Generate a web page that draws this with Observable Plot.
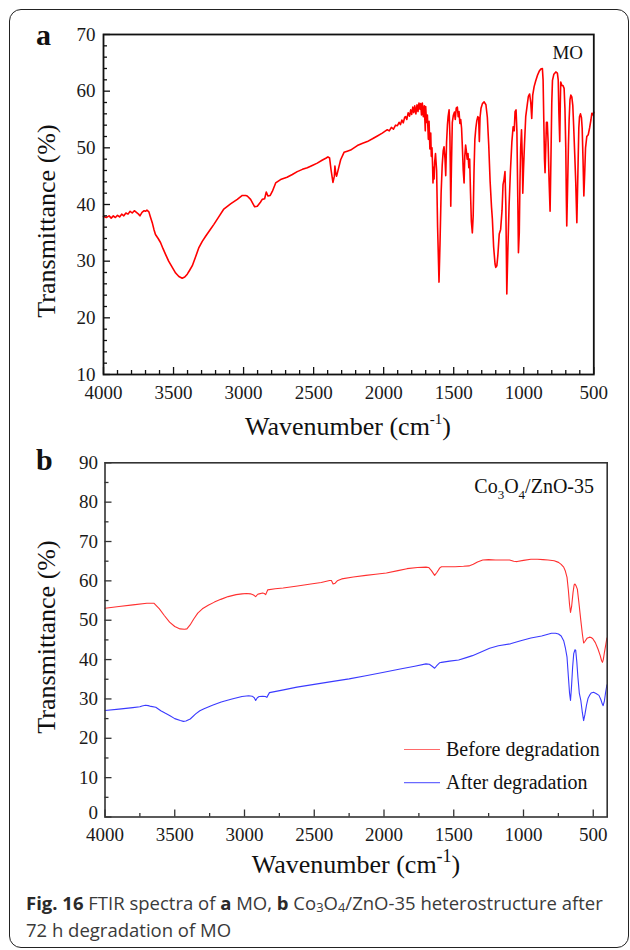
<!DOCTYPE html>
<html><head><meta charset="utf-8">
<script src="https://cdn.jsdelivr.net/npm/d3@7"></script>
<script src="https://cdn.jsdelivr.net/npm/@observablehq/plot@0.6"></script>
<style>
body{margin:0;background:#fff;}
#wrap{position:relative;width:630px;height:950px;overflow:hidden;background:#fff;}
#frame{position:absolute;left:9px;top:9px;width:620px;height:939px;border:1.5px solid #222;border-radius:12px;box-sizing:border-box;}
.panel{position:absolute;left:0;}
#caption{position:absolute;left:26px;top:889px;font-family:'Open Sans',sans-serif;font-size:18.5px;line-height:27px;color:#3a3a3a;white-space:nowrap;}
#caption b{color:#2a2a2a;}
#caption sub{font-size:0.7em;vertical-align:-0.15em;line-height:0;}
</style></head>
<body>
<div id="wrap">
<div id="frame"></div>
<div id="pa" class="panel" style="top:0"></div>
<div id="pb" class="panel" style="top:440px"></div>
<div id="caption"><b>Fig. 16</b> FTIR spectra of <b>a</b> MO, <b>b</b> Co<sub>3</sub>O<sub>4</sub>/ZnO-35 heterostructure after<br>72 h degradation of MO</div>
</div>
<script>
// ---------- Data: [wavenumber (cm-1), transmittance (%)] ----------
const moSpectrum = [
[4000,37.9],[3980,37.7],[3960,38.0],[3945,37.6],[3930,38.0],[3915,37.7],[3900,38.1],[3885,37.8],[3870,38.3],[3855,38.0],
[3840,38.5],[3825,38.3],[3810,38.8],[3795,38.5],[3780,38.9],[3765,38.6],[3750,38.3],[3740,38.0],[3725,38.6],[3710,38.9],
[3700,38.8],[3690,39.0],[3676,38.7],[3665,37.8],[3652,36.8],[3640,35.6],[3629,34.7],[3610,34.0],[3593,33.3],[3575,32.2],
[3557,31.2],[3535,30.0],[3509,28.9],[3485,27.9],[3462,27.3],[3438,27.0],[3420,27.2],[3402,27.7],[3385,28.4],[3366,29.2],
[3345,30.6],[3319,32.4],[3295,33.5],[3271,34.4],[3240,35.5],[3212,36.5],[3175,37.9],[3141,39.2],[3093,40.1],[3045,40.9],
[3009,41.6],[2985,41.6],[2974,41.5],[2950,40.9],[2921,39.6],[2902,39.7],[2880,40.4],[2867,40.9],[2850,41.0],[2838,42.2],
[2826,41.5],[2810,41.6],[2795,42.3],[2771,43.8],[2736,44.4],[2690,44.8],[2652,45.3],[2617,45.8],[2580,46.2],[2545,46.5],
[2510,46.9],[2474,47.3],[2440,47.8],[2410,48.2],[2398,48.4],[2386,48.2],[2375,46.0],[2362,43.9],[2352,45.0],[2348,46.8],
[2342,45.5],[2336,45.0],[2320,46.6],[2307,47.9],[2283,49.2],[2260,49.4],[2236,49.6],[2188,50.4],[2150,50.8],[2117,51.1],
[2080,51.6],[2045,52.1],[2010,52.6],[1974,53.2],[1960,53.0],[1945,53.6],[1930,53.3],[1915,54.0],[1902,53.9],[1890,54.5],
[1880,54.1],[1870,54.9],[1860,54.4],[1850,55.4],[1843,55.5],[1835,55.0],[1825,56.2],[1815,55.6],[1807,56.7],[1800,55.9],
[1792,57.2],[1785,56.2],[1778,57.4],[1770,56.0],[1762,57.6],[1755,56.4],[1748,57.9],[1740,56.8],[1736,57.8],[1730,55.8],
[1724,57.9],[1717,55.5],[1710,57.4],[1703,53.0],[1700,57.3],[1694,54.5],[1688,55.8],[1681,51.5],[1676,54.7],[1670,49.8],
[1664,52.6],[1660,48.5],[1655,50.0],[1651,47.0],[1648,43.8],[1644,46.5],[1640,44.5],[1636,47.5],[1630,49.0],[1622,46.0],
[1615,36.0],[1605,26.3],[1598,33.0],[1590,42.0],[1582,47.0],[1575,49.5],[1569,50.2],[1562,48.0],[1557,45.1],[1551,51.0],
[1545,54.0],[1540,55.5],[1533,56.7],[1527,52.0],[1521,39.7],[1516,47.0],[1510,54.5],[1503,55.7],[1495,56.3],[1489,55.0],
[1482,57.0],[1474,57.2],[1468,55.5],[1462,56.4],[1456,54.3],[1450,55.0],[1444,53.5],[1438,50.0],[1432,46.0],[1426,43.8],
[1421,48.5],[1415,50.5],[1410,49.5],[1404,48.0],[1398,49.0],[1392,46.5],[1386,48.0],[1380,42.0],[1374,37.0],[1367,35.0],
[1361,38.0],[1355,46.0],[1349,51.5],[1342,53.5],[1335,54.8],[1328,55.5],[1322,55.3],[1317,51.1],[1312,55.4],[1305,57.0],
[1295,57.8],[1283,58.1],[1270,57.6],[1260,55.4],[1250,50.5],[1240,44.0],[1230,39.5],[1224,37.4],[1215,32.5],[1205,29.5],
[1200,28.9],[1192,29.2],[1185,31.0],[1175,34.8],[1165,35.6],[1155,39.0],[1148,43.5],[1141,44.4],[1134,45.8],[1128,40.0],
[1121,24.2],[1114,31.5],[1105,39.7],[1095,46.0],[1085,51.0],[1076,53.7],[1068,53.0],[1062,56.4],[1055,56.7],[1049,53.0],
[1042,40.0],[1038,31.5],[1032,35.0],[1027,44.0],[1022,50.0],[1016,53.2],[1010,48.0],[1007,42.0],[1002,46.0],[995,50.5],
[986,55.5],[974,57.8],[967,59.1],[958,59.5],[950,58.0],[943,55.2],[936,59.3],[926,60.8],[915,61.8],[902,62.8],
[890,63.5],[878,63.9],[867,64.0],[862,62.0],[857,55.0],[852,48.0],[848,45.6],[843,50.0],[838,54.5],[832,54.5],
[826,51.0],[819,44.0],[812,38.8],[806,48.0],[800,58.0],[795,61.9],[785,63.0],[771,63.4],[760,63.2],[754,62.0],
[749,56.0],[743,51.1],[739,58.0],[736,61.6],[728,61.0],[720,61.0],[712,60.5],[706,57.0],[700,50.0],[696,41.0],
[693,36.2],[688,42.0],[681,50.5],[676,55.0],[670,58.5],[664,59.3],[657,59.0],[650,57.5],[644,54.0],[636,48.8],
[629,44.0],[621,36.8],[614,45.0],[607,53.5],[602,55.5],[595,56.0],[588,55.3],[583,53.5],[577,48.0],[571,41.5],
[565,45.5],[559,50.0],[550,52.0],[540,52.3],[530,53.5],[520,55.0],[514,56.1],[507,55.8],[500,56.3]
];

const beforeSpectrum = [
[4000,53.05],[3900,53.5],[3800,53.9],[3700,54.3],[3648,54.3],[3610,52.9],[3575,51.2],[3537,49.5],[3500,48.4],[3462,47.8],
[3430,47.7],[3413,47.8],[3390,48.8],[3364,50.3],[3335,51.8],[3302,52.9],[3260,53.8],[3216,54.6],[3170,55.3],[3117,56.0],
[3060,56.5],[3018,56.7],[2985,56.8],[2957,56.7],[2935,56.4],[2920,56.0],[2905,56.6],[2895,56.7],[2870,56.9],[2858,56.8],
[2848,56.5],[2834,57.7],[2780,58.0],[2723,58.2],[2620,58.7],[2525,59.2],[2450,59.6],[2390,60.1],[2377,60.1],[2365,59.2],
[2350,59.4],[2335,60.0],[2303,60.5],[2220,61.0],[2130,61.4],[2060,61.7],[1983,62.0],[1900,62.6],[1835,63.1],[1760,63.4],
[1699,63.5],[1680,63.4],[1660,62.6],[1637,61.4],[1620,62.2],[1600,63.3],[1588,63.6],[1540,63.6],[1490,63.6],[1430,63.7],
[1391,63.8],[1360,64.2],[1330,64.8],[1292,65.3],[1250,65.4],[1200,65.3],[1144,65.3],[1100,65.3],[1070,65.0],[1046,64.9],
[1000,65.2],[947,65.5],[900,65.5],[860,65.4],[824,65.3],[780,65.1],[749,64.7],[730,64.2],[712,63.5],[700,62.5],
[688,60.9],[678,57.5],[670,54.0],[663,52.0],[655,53.5],[645,57.0],[637,59.0],[631,59.2],[624,58.8],[614,57.9],
[603,54.5],[589,49.9],[578,46.5],[569,44.2],[560,44.6],[545,45.4],[527,45.7],[515,45.6],[503,45.3],[485,44.3],
[466,42.7],[450,41.0],[440,39.7],[434,39.3],[428,40.0],[420,41.8],[410,43.8],[402,45.5]
];

const afterSpectrum = [
[4000,27.06],[3900,27.4],[3800,27.8],[3750,28.0],[3734,28.2],[3710,28.4],[3690,28.3],[3670,28.1],[3636,27.9],[3600,27.0],
[3570,26.4],[3537,25.8],[3500,25.0],[3460,24.5],[3438,24.3],[3420,24.4],[3389,24.9],[3350,26.2],[3320,27.0],[3290,27.5],
[3230,28.4],[3167,29.2],[3090,30.0],[3018,30.6],[2970,30.8],[2945,30.7],[2930,30.3],[2920,29.6],[2908,30.3],[2895,30.6],
[2870,30.7],[2850,30.6],[2840,30.4],[2821,31.6],[2720,32.3],[2624,33.0],[2500,33.7],[2377,34.4],[2250,35.1],[2130,35.9],
[2010,36.7],[1884,37.6],[1780,38.3],[1699,38.9],[1675,38.8],[1655,38.3],[1637,37.8],[1620,38.5],[1600,39.2],[1588,39.3],
[1530,39.6],[1465,39.9],[1410,40.5],[1366,41.0],[1300,42.0],[1243,42.9],[1180,43.5],[1094,44.0],[1020,44.8],[947,45.5],
[870,46.0],[799,46.7],[770,46.7],[749,46.5],[730,46.0],[712,44.8],[700,43.0],[688,40.6],[678,35.5],[670,31.5],
[663,29.6],[656,33.0],[648,38.0],[640,41.5],[631,42.5],[626,42.4],[618,39.5],[610,35.5],[600,31.5],[589,29.6],
[578,26.5],[569,24.5],[560,26.0],[548,28.5],[537,30.2],[527,30.9],[515,31.5],[498,31.7],[480,31.4],[459,30.9],
[445,29.8],[435,28.7],[429,28.3],[420,29.5],[412,31.5],[402,33.6]
];

// ---------- Axes ----------
const xTicksA = [4000, 3500, 3000, 2500, 2000, 1500, 1000, 500];
const yTicksA = [10, 20, 30, 40, 50, 60, 70];
const xTicksB = [4000, 3500, 3000, 2500, 2000, 1500, 1000, 500];
const yTicksB = [0, 10, 20, 30, 40, 50, 60, 70, 80, 90];
const xMinorA = d3.range(500, 4001, 100).filter(v => v % 500 !== 0);
const yMinorA = d3.range(10, 71, 2).filter(v => v % 10 !== 0);
const xMinorB = d3.range(750, 4000, 500);
const yMinorB = d3.range(5, 90, 10);

const seriesNames = ["Before degradation", "After degradation"];
const seriesColors = ["#ff3030", "#3a3aff"];
const legendColors = ["#ff6a6a", "#6a6aff"];

const serif = "'Liberation Serif','Times New Roman',Times,serif";
const W = 630;

function txt(sel, x, y, size, str, opts = {}) {
  const t = sel.append("text").attr("x", x).attr("y", y).attr("font-size", size)
    .attr("font-family", serif).attr("fill", opts.fill || "#111")
    .attr("text-anchor", opts.anchor || "start");
  if (opts.weight) t.attr("font-weight", opts.weight);
  if (opts.transform) t.attr("transform", opts.transform);
  if (str != null) t.text(str);
  return t;
}

// ---------- Panel a ----------
const mA = {top: 34, right: 36.7, bottom: 66, left: 103};
const HA = 440;
const phA = HA - mA.top - mA.bottom;
const pwA = W - mA.left - mA.right;
const plotA = Plot.plot({
  width: W, height: HA,
  marginTop: mA.top, marginRight: mA.right, marginBottom: mA.bottom, marginLeft: mA.left,
  style: {fontFamily: serif, background: "transparent", color: "#111", overflow: "visible"},
  x: {domain: [4000, 500]},
  y: {domain: [10, 70]},
  marks: [
    Plot.line(moSpectrum, {x: d => d[0], y: d => d[1], stroke: "#ff0000", strokeWidth: 1.6}),
    Plot.ruleX(xMinorA, {x: d => d, insetTop: phA - 4, stroke: "#111", strokeWidth: 1.3}),
    Plot.ruleX(xTicksA, {x: d => d, insetTop: phA - 7, stroke: "#111", strokeWidth: 1.3}),
    Plot.ruleY(yMinorA, {y: d => d, insetRight: pwA - 4, stroke: "#111", strokeWidth: 1.3}),
    Plot.ruleY(yTicksA, {y: d => d, insetRight: pwA - 7, stroke: "#111", strokeWidth: 1.3}),
    Plot.axisX({ticks: xTicksA, tickSize: 0, tickPadding: 11, tickFormat: d => String(d), fontSize: 19, label: null, color: "#1a1a1a"}),
    Plot.axisY({ticks: yTicksA, tickSize: 0, tickPadding: 8, tickFormat: d => String(d), fontSize: 19, label: null, color: "#1a1a1a"}),
    Plot.frame({stroke: "#111", strokeWidth: 1.8})
  ]
});
document.getElementById("pa").appendChild(plotA);
const sa = d3.select(plotA);
txt(sa, 36, 45, 30, "a", {weight: "bold"});
txt(sa, 0, 0, 26, "Transmittance (%)", {anchor: "middle", transform: "translate(55,221) rotate(-90)"});
{
  const t = txt(sa, 348, 435, 26, null, {anchor: "middle"});
  t.append("tspan").text("Wavenumber (cm");
  t.append("tspan").attr("font-size", 15).attr("dy", -11).text("-1");
  t.append("tspan").attr("dy", 11).text(")");
}
txt(sa, 583, 59, 19, "MO", {anchor: "end"});

// ---------- Panel b ----------
const mB = {top: 22.3, right: 23.3, bottom: 63.5, left: 104.5};
const HB = 440;
const phB = HB - mB.top - mB.bottom;
const pwB = W - mB.left - mB.right;
const plotB = Plot.plot({
  width: W, height: HB,
  marginTop: mB.top, marginRight: mB.right, marginBottom: mB.bottom, marginLeft: mB.left,
  style: {fontFamily: serif, background: "transparent", color: "#111", overflow: "visible"},
  x: {domain: [4000, 400]},
  y: {domain: [0, 90]},
  marks: [
    Plot.line(beforeSpectrum, {x: d => d[0], y: d => d[1], stroke: seriesColors[0], strokeWidth: 1.1}),
    Plot.line(afterSpectrum, {x: d => d[0], y: d => d[1], stroke: seriesColors[1], strokeWidth: 1.1}),
    Plot.ruleX(xMinorB, {x: d => d, insetTop: phB - 3.5, stroke: "#333", strokeWidth: 1.3}),
    Plot.ruleX(xTicksB, {x: d => d, insetTop: phB - 7, stroke: "#333", strokeWidth: 1.3}),
    Plot.ruleY(yMinorB, {y: d => d, insetRight: pwB - 4, stroke: "#333", strokeWidth: 1.3}),
    Plot.ruleY(yTicksB, {y: d => d, insetRight: pwB - 7, stroke: "#333", strokeWidth: 1.3}),
    Plot.axisX({ticks: xTicksB, tickSize: 0, tickPadding: 10, tickFormat: d => String(d), fontSize: 19, label: null, color: "#1a1a1a"}),
    Plot.axisY({ticks: yTicksB.filter(v => v !== 0), tickSize: 0, tickPadding: 7, tickFormat: d => String(d), fontSize: 19, label: null, color: "#1a1a1a"}),
    Plot.axisY({ticks: yTicksB.filter(v => v === 0), tickSize: 0, tickPadding: 7, dy: -4, tickFormat: d => String(d), fontSize: 19, label: null, color: "#1a1a1a"}),
    Plot.frame({stroke: "#333", strokeWidth: 1.6})
  ]
});
document.getElementById("pb").appendChild(plotB);
const sb = d3.select(plotB);
txt(sb, 36, 29.5, 30, "b", {weight: "bold"});
txt(sb, 0, 0, 26, "Transmittance (%)", {anchor: "middle", transform: "translate(55,197) rotate(-90)"});
{
  const t = txt(sb, 356, 432.7, 26, null, {anchor: "middle"});
  t.append("tspan").text("Wavenumber (cm");
  t.append("tspan").attr("font-size", 18).attr("dy", -11).text("-1");
  t.append("tspan").attr("dy", 11).text(")");
}
{
  const t = txt(sb, 594, 53, 20, null, {anchor: "end"});
  t.append("tspan").text("Co");
  t.append("tspan").attr("font-size", 13).attr("dy", 6).text("3");
  t.append("tspan").attr("dy", -6).text("O");
  t.append("tspan").attr("font-size", 13).attr("dy", 6).text("4");
  t.append("tspan").attr("dy", -6).text("/ZnO-35");
}
// legend
const legY = [309.5, 342.7];
seriesNames.forEach((name, i) => {
  sb.append("line").attr("x1", 404).attr("x2", 440).attr("y1", legY[i]).attr("y2", legY[i])
    .attr("stroke", legendColors[i]).attr("stroke-width", 1.2);
  txt(sb, 446, legY[i] + 6, 20, name);
});
</script>
</body></html>
